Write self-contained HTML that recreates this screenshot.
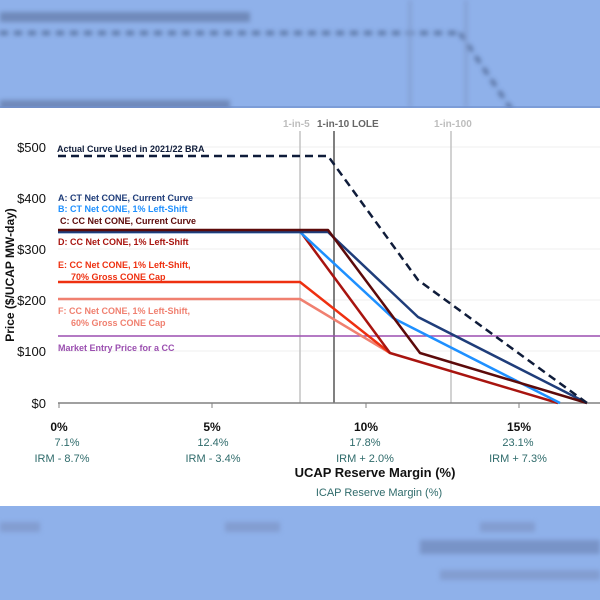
<!DOCTYPE html>
<html><head><meta charset="utf-8"><style>
html,body{margin:0;padding:0;width:600px;height:600px;overflow:hidden;background:#8fb1ea;}
svg{display:block}
text{font-family:"Liberation Sans",sans-serif}
</style></head><body>
<svg width="600" height="600" viewBox="0 0 600 600" xmlns="http://www.w3.org/2000/svg">
<defs><filter id="b" x="-10%" y="-50%" width="120%" height="200%"><feGaussianBlur stdDeviation="2.5"/></filter></defs>
<rect width="600" height="600" fill="#8fb1ea"/>
<g filter="url(#b)" opacity="0.6">
<line x1="0" y1="33" x2="460" y2="33" stroke="#33446a" stroke-width="4" stroke-dasharray="8 6"/>
<line x1="460" y1="33" x2="515" y2="115" stroke="#33446a" stroke-width="4" stroke-dasharray="8 6"/>
<rect x="0" y="12" width="250" height="10" fill="#5a6f9a"/>
<rect x="0" y="100" width="230" height="10" fill="#5a6f9a"/>
<line x1="410" y1="0" x2="410" y2="108" stroke="#7a92c0" stroke-width="3"/>
<line x1="466" y1="0" x2="466" y2="108" stroke="#7a92c0" stroke-width="3"/>
<rect x="0" y="522" width="40" height="10" fill="#7a90c0"/>
<rect x="225" y="522" width="55" height="10" fill="#7a90c0"/>
<rect x="480" y="522" width="55" height="10" fill="#7a90c0"/>
<rect x="420" y="540" width="180" height="14" fill="#6a80b0"/>
<rect x="440" y="570" width="160" height="10" fill="#7a90c0"/>
</g>
<rect x="0" y="106" width="600" height="4" fill="#6f8fcc" opacity="0.6"/>
<rect x="0" y="108" width="600" height="398" fill="#fff"/>
<!-- gridlines -->
<g stroke="#efefef" stroke-width="1">
<line x1="58" y1="147" x2="600" y2="147"/><line x1="58" y1="198" x2="600" y2="198"/>
<line x1="58" y1="249" x2="600" y2="249"/><line x1="58" y1="300" x2="600" y2="300"/>
<line x1="58" y1="351" x2="600" y2="351"/>
</g>
<!-- vertical reliability lines -->
<line x1="300" y1="131" x2="300" y2="403" stroke="#c4c4c4" stroke-width="1.5"/>
<line x1="334" y1="131" x2="334" y2="403" stroke="#808080" stroke-width="2"/>
<line x1="451" y1="131" x2="451" y2="403" stroke="#c4c4c4" stroke-width="1.5"/>
<text x="283" y="127" font-size="10" font-weight="bold" fill="#bdbdbd">1-in-5</text>
<text x="317" y="127" font-size="10" font-weight="bold" fill="#666">1-in-10 LOLE</text>
<text x="434" y="127" font-size="10" font-weight="bold" fill="#bdbdbd">1-in-100</text>
<!-- axis -->
<line x1="58" y1="403" x2="600" y2="403" stroke="#808080" stroke-width="1.5"/>
<g stroke="#808080"><line x1="59" y1="403" x2="59" y2="408"/><line x1="212" y1="403" x2="212" y2="408"/><line x1="366" y1="403" x2="366" y2="408"/><line x1="519" y1="403" x2="519" y2="408"/></g>
<!-- y labels -->
<g font-size="13" fill="#111" text-anchor="end">
<text x="46" y="152">$500</text><text x="46" y="203">$400</text><text x="46" y="254">$300</text>
<text x="46" y="305">$200</text><text x="46" y="356">$100</text><text x="46" y="408">$0</text>
</g>
<text transform="translate(14,275) rotate(-90)" font-size="12" font-weight="bold" text-anchor="middle" fill="#111">Price ($/UCAP MW-day)</text>
<!-- market line -->
<line x1="58" y1="336" x2="600" y2="336" stroke="#9b4fb0" stroke-width="1.5"/>
<!-- series -->
<g fill="none" stroke-width="2.5" stroke-linejoin="round">
<polyline points="58,299 300,299 390,353" stroke="#f08070"/>
<polyline points="58,282 300,282 390,353" stroke="#ee3010"/>
<polyline points="300,231 390,353 558,403" stroke="#a8140f"/>
<polyline points="58,232 300,232 393,318 560,403" stroke="#1e90ff"/>
<polyline points="58,232 328,232 418,317 587,403" stroke="#1f3d7a"/>
<polyline points="58,230 328,230 420,353 587,403" stroke="#5c0a0a"/>
<polyline points="58,156 328,156 418,280 587,403" stroke="#0f1c3a" stroke-dasharray="8 5"/>
</g>
<!-- legend texts -->
<g font-size="9" font-weight="bold">
<text x="57" y="152" fill="#0f1c3a">Actual Curve Used in 2021/22 BRA</text>
<text x="58" y="201" fill="#1f3d7a">A: CT Net CONE, Current Curve</text>
<text x="58" y="212" fill="#1e90ff">B: CT Net CONE, 1% Left-Shift</text>
<text x="60" y="224" fill="#5c0a0a">C: CC Net CONE, Current Curve</text>
<text x="58" y="245" fill="#a8140f">D: CC Net CONE, 1% Left-Shift</text>
<text x="58" y="268" fill="#ee3010">E: CC Net CONE, 1% Left-Shift,</text>
<text x="71" y="280" fill="#ee3010">70% Gross CONE Cap</text>
<text x="58" y="314" fill="#f08070">F: CC Net CONE, 1% Left-Shift,</text>
<text x="71" y="326" fill="#f08070">60% Gross CONE Cap</text>
<text x="58" y="351" fill="#9b4fb0">Market Entry Price for a CC</text>
</g>
<!-- x labels -->
<g text-anchor="middle">
<g font-size="12" font-weight="bold" fill="#111">
<text x="59" y="431">0%</text><text x="212" y="431">5%</text><text x="366" y="431">10%</text><text x="519" y="431">15%</text></g>
<g font-size="11" fill="#2f6b6b">
<text x="67" y="446">7.1%</text><text x="213" y="446">12.4%</text><text x="365" y="446">17.8%</text><text x="518" y="446">23.1%</text>
<text x="62" y="462">IRM - 8.7%</text><text x="213" y="462">IRM - 3.4%</text><text x="365" y="462">IRM + 2.0%</text><text x="518" y="462">IRM + 7.3%</text>
<text x="379" y="496">ICAP Reserve Margin (%)</text></g>
<text x="375" y="477" font-size="13" font-weight="bold" fill="#111">UCAP Reserve Margin (%)</text>
</g>
</svg>
</body></html>
